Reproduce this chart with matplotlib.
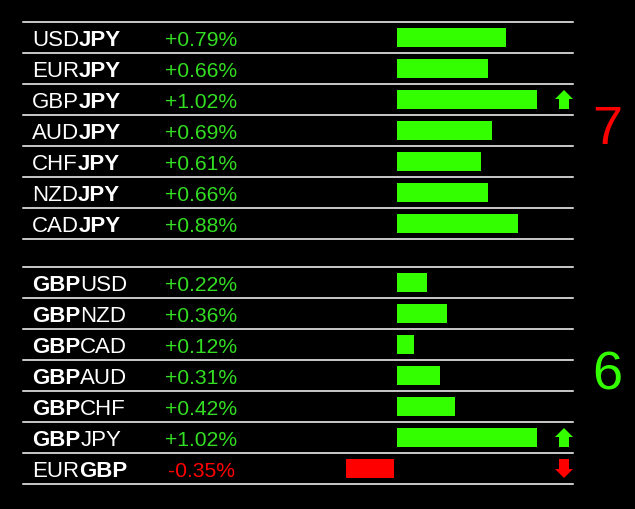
import matplotlib.pyplot as plt
from matplotlib.patches import Polygon

# currency strength panel: two groups of pairs
jpy_base = ['USD', 'EUR', 'GBP', 'AUD', 'CHF', 'NZD', 'CAD']
jpy_quote = ['JPY'] * 7
jpy_vals = [0.79, 0.66, 1.02, 0.69, 0.61, 0.66, 0.88]
jpy_arrows = [None, None, 'up', None, None, None, None]
jpy_score = 7

gbp_base = ['GBP', 'GBP', 'GBP', 'GBP', 'GBP', 'GBP', 'EUR']
gbp_quote = ['USD', 'NZD', 'CAD', 'AUD', 'CHF', 'JPY', 'GBP']
gbp_vals = [0.22, 0.36, 0.12, 0.31, 0.42, 1.02, -0.35]
gbp_arrows = [None, None, None, None, None, 'up', 'down']
gbp_score = 6

GREEN = '#33ff00'
TXT_GREEN = '#33dd22'
RED = '#ff0000'
FONT = 'Liberation Sans'

W, H = 635, 509
fig = plt.figure(figsize=(W / 100, H / 100), dpi=100, facecolor='black')
ax = fig.add_axes([0, 0, 1, 1])
ax.set_facecolor('black')
ax.set_xlim(0, W)
ax.set_ylim(H, 0)
ax.axis('off')

row_h = 31
x_line0, x_line1 = 23, 573
x_label, x_pct = 32, 165
x_zero = 397      # left edge of positive bars
x_zero_neg = 394  # right edge of negative bars
px_per_pct = 137.5


def draw_arrow(xc, top, kind):
    w, h = 18, 19
    sw = 10
    hh = 9
    if kind == 'up':
        pts = [(xc, top), (xc + w / 2, top + hh), (xc + sw / 2, top + hh),
               (xc + sw / 2, top + h), (xc - sw / 2, top + h),
               (xc - sw / 2, top + hh), (xc - w / 2, top + hh)]
        col = GREEN
    else:
        pts = [(xc, top + h), (xc + w / 2, top + h - hh), (xc + sw / 2, top + h - hh),
               (xc + sw / 2, top), (xc - sw / 2, top),
               (xc - sw / 2, top + h - hh), (xc - w / 2, top + h - hh)]
        col = RED
    ax.add_patch(Polygon(pts, closed=True, color=col, lw=0))


def draw_group(y0, base, quote, vals, arrows, score, score_col, focus):
    n = len(vals)
    for i in range(n + 1):
        ax.plot([x_line0, x_line1], [y0 + i * row_h] * 2, color='white', lw=1.1)
    for i in range(n):
        top = y0 + i * row_h
        t1 = ax.text(x_label, top + 24, base[i], color='white', fontsize=16,
                     family=FONT,
                     fontweight='bold' if base[i] == focus else 'normal',
                     va='baseline', ha='left')
        ax.annotate(quote[i], xy=(1, 0), xycoords=t1, va='bottom', ha='left',
                    color='white', fontsize=16, family=FONT,
                    fontweight='bold' if quote[i] == focus else 'normal')
        v = vals[i]
        col = GREEN if v >= 0 else RED
        tcol = TXT_GREEN if v >= 0 else RED
        ax.text(x_pct if v >= 0 else x_pct + 3, top + 24, '%+.2f%%' % v,
                color=tcol, fontsize=15.2, family=FONT, va='baseline', ha='left')
        if v >= 0:
            ax.barh(top + 15.5, v * px_per_pct, height=19, left=x_zero,
                    color=col, lw=0)
        else:
            ax.barh(top + 15.5, v * px_per_pct, height=19, left=x_zero_neg,
                    color=col, lw=0)
        if arrows[i]:
            draw_arrow(564, top + 6, arrows[i])
    ax.text(607, y0 + n * row_h / 2, str(score), color=score_col, fontsize=39,
            family=FONT, ha='center', va='center')


draw_group(22, jpy_base, jpy_quote, jpy_vals, jpy_arrows, jpy_score, RED, 'JPY')
draw_group(267, gbp_base, gbp_quote, gbp_vals, gbp_arrows, gbp_score, GREEN, 'GBP')

fig.savefig('out.png', dpi=100, facecolor='black')
